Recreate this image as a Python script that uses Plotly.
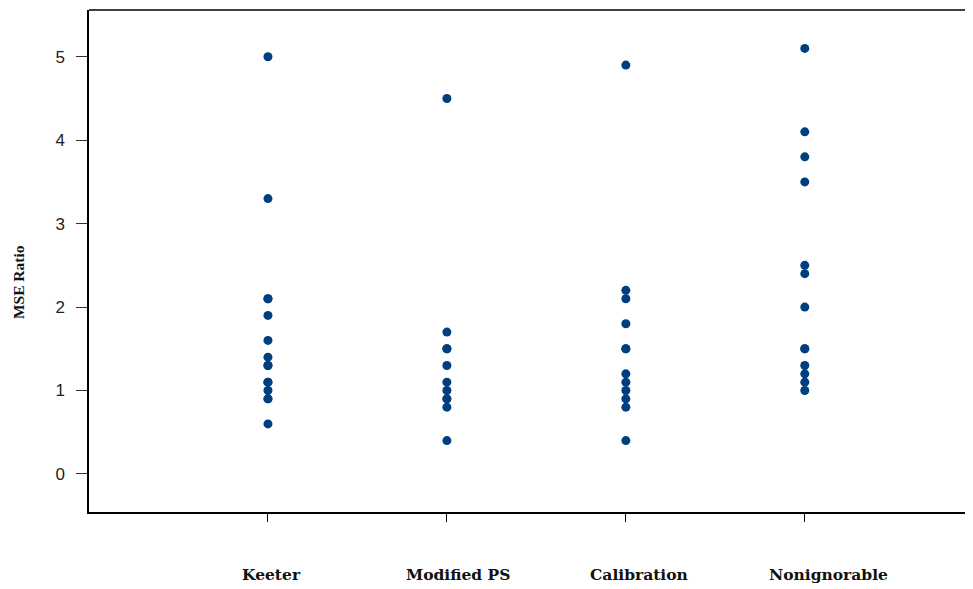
import plotly.graph_objects as go

categories = ["Keeter", "Modified PS", "Calibration", "Nonignorable"]
cat_pos = [1, 2, 3, 4]
keeter = [5.0, 3.3, 2.1, 2.1, 1.9, 1.6, 1.4, 1.3, 1.3, 1.1, 1.1, 1.0, 0.9, 0.9, 0.6]
modified_ps = [4.5, 1.7, 1.5, 1.5, 1.3, 1.1, 1.0, 0.9, 0.9, 0.8, 0.4]
calibration = [4.9, 2.2, 2.1, 1.8, 1.5, 1.5, 1.2, 1.1, 1.0, 0.9, 0.8, 0.4]
nonignorable = [5.1, 4.1, 3.8, 3.5, 2.5, 2.4, 2.0, 1.5, 1.5, 1.3, 1.2, 1.1, 1.0]
y_ticks = [0, 1, 2, 3, 4, 5]

series = [keeter, modified_ps, calibration, nonignorable]
label_shifts = [4, 11, 13, 24]

fig = go.Figure()
for pos, vals in zip(cat_pos, series):
    fig.add_trace(go.Scatter(
        x=[pos] * len(vals), y=vals, mode="markers",
        marker=dict(symbol="circle", size=9, color="#003F7F", line=dict(width=0)),
        showlegend=False, hoverinfo="y"))

for pos, name, sh in zip(cat_pos, categories, label_shifts):
    fig.add_annotation(x=pos, xref="x", y=-0.124, yref="paper", text="<b>" + name + "</b>",
                       showarrow=False, xanchor="center", yanchor="middle", xshift=sh,
                       font=dict(family="DejaVu Serif", size=15.5, color="#111"))

fig.add_annotation(x=-0.0803, xref="paper", y=0.458, yref="paper", text="<b>MSE Ratio</b>",
                   showarrow=False, textangle=-90, xanchor="center", yanchor="middle",
                   font=dict(family="Liberation Serif", size=15.5, color="#111"))

fig.add_shape(type="line", xref="paper", yref="paper", x0=0, x1=1, y0=1, y1=1,
              line=dict(color="black", width=1.5))

fig.update_layout(
    width=965, height=581,
    margin=dict(l=81, r=0, t=2, b=77),
    plot_bgcolor="white", paper_bgcolor="white",
    xaxis=dict(range=[0, 4.94], tickvals=cat_pos, ticktext=["", "", "", ""],
               ticks="outside", ticklen=8, tickcolor="black", tickwidth=1,
               showline=True, linecolor="black", linewidth=1.5,
               showgrid=False, zeroline=False),
    yaxis=dict(range=[-0.456, 5.56], tickvals=y_ticks,
               ticks="outside", ticklen=11, tickcolor="#333", tickwidth=1,
               ticklabelstandoff=8,
               showline=True, linecolor="black", linewidth=1.5,
               showgrid=False, zeroline=False,
               tickfont=dict(family="Liberation Sans", size=17, color="#222")),
)

fig.write_html("out.html")
